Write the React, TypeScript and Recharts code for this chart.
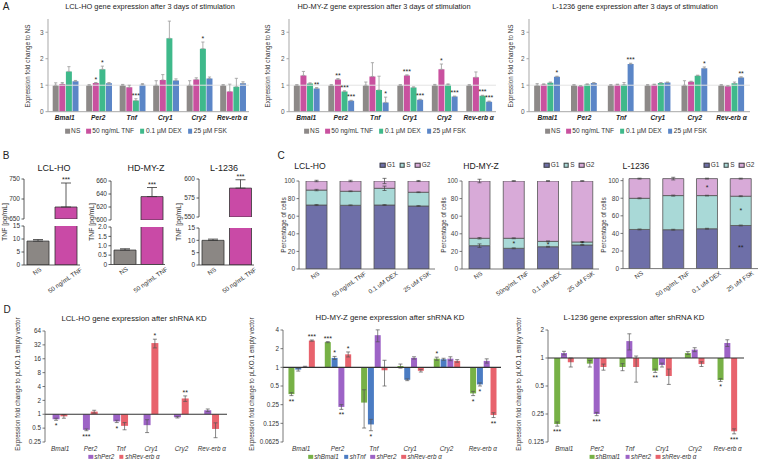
import React from 'react';
import { BarChart, Bar, XAxis, YAxis, ErrorBar, LabelList, ReferenceLine, Cell } from 'recharts';

const FONT = '"Liberation Sans", Arial, Helvetica, sans-serif';

// ================= Panel A data =================
const genes = ['Bmal1', 'Per2', 'Tnf', 'Cry1', 'Cry2', 'Rev-erb α'];
const stimNames = ['NS', '50 ng/mL TNF', '0.1 µM DEX', '25 µM FSK'];
const stimColors = ['#8d8988', '#c9519f', '#3fb98b', '#5b86c7'];
const noStars = ['', '', '', '', '', ''];

// LCL-HO
const a1NS = [1.0, 1.0, 1.0, 1.0, 1.0, 1.0];
const a1TNF = [1.05, 1.08, 0.92, 1.2, 1.22, 0.76];
const a1DEX = [1.52, 1.6, 0.42, 2.77, 2.38, 0.94];
const a1FSK = [1.15, 1.07, 1.02, 1.18, 1.25, 1.07];
const a1NSErr = [0.09, 0.02, 0.03, 0.17, 0.17, 0.02];
const a1TNFErr = [0.05, 0.02, 0.08, 0.2, 0.06, 0.28];
const a1DEXErr = [0.18, 0.12, 0.07, 0.65, 0.25, 0.32];
const a1FSKErr = [0.03, 0.03, 0.04, 0.06, 0.06, 0.06];
const a1TNFStars = ['', '*', '', '', '', ''];
const a1DEXStars = ['', '*', '***', '', '*', ''];

// HD-MY-Z
const a2NS = [1.0, 1.0, 1.0, 1.0, 1.0, 1.0];
const a2TNF = [1.37, 1.22, 1.33, 1.37, 1.6, 1.3];
const a2DEX = [1.06, 0.76, 0.82, 0.91, 1.02, 0.6];
const a2FSK = [0.88, 0.41, 0.35, 0.45, 0.57, 0.38];
const a2NSErr = [0.02, 0.02, 0.12, 0.02, 0.03, 0.02];
const a2TNFErr = [0.15, 0.03, 0.52, 0.02, 0.2, 0.2];
const a2DEXErr = [0.03, 0.03, 0.52, 0.03, 0.03, 0.02];
const a2FSKErr = [0.03, 0.02, 0.2, 0.02, 0.02, 0.02];
const a2TNFStars = ['', '**', '', '***', '*', ''];
const a2DEXStars = ['', '***', '', '', '', '***'];
const a2FSKStars = ['**', '***', '*', '***', '***', '***'];

// L-1236
const a3NS = [1.0, 1.0, 1.0, 1.0, 1.0, 1.0];
const a3TNF = [1.03, 0.96, 1.02, 1.02, 1.13, 0.96];
const a3DEX = [1.09, 1.03, 1.02, 1.08, 1.36, 1.07];
const a3FSK = [1.32, 1.08, 1.8, 1.1, 1.64, 1.29];
const a3NSErr = [0.06, 0.02, 0.02, 0.02, 0.17, 0.02];
const a3TNFErr = [0.02, 0.02, 0.02, 0.02, 0.02, 0.02];
const a3DEXErr = [0.03, 0.02, 0.08, 0.02, 0.02, 0.05];
const a3FSKErr = [0.02, 0.02, 0.03, 0.02, 0.05, 0.03];
const a3FSKStars = ['*', '', '***', '', '*', '**'];

// ================= Panel B data =================
const bCats = ['NS', '50 ng/mL TNF'];
const bColors = ['#8b8784', '#c94aa6'];
const b1Vals = [9.2, 680];
const b1Errs = [0.6, 60];
const b2Vals = [0.77, 636];
const b2Errs = [0.07, 14];
const b3Vals = [10.0, 588];
const b3Errs = [0.5, 11];
const bStars = ['', '***'];

// ================= Panel C data =================
const cCats = ['NS', '50 ng/mL TNF', '0.1 uM DEX', '25 uM FSK'];
const cCats2 = ['NS', '50ng/mL TNF', '0.1 uM DEX', '25 uM FSK'];
const phaseNames = ['G1', 'S', 'G2'];
const phaseColors = ['#6e6fa8', '#a9d9d7', '#d8aad8'];
const cNoStars = ['', '', '', ''];

const c1G1 = [72.7, 72.4, 72.7, 71.6];
const c1S = [17.0, 15.9, 19.0, 15.6];
const c1G2 = [10.3, 11.7, 8.3, 12.8];
const c1G1Err = [0.6, 0.4, 0.5, 0.4];
const c1SErr = [0.8, 0.4, 2.5, 0.4];
const c1G2Err = [0.8, 0.8, 3.0, 0.6];

const c2G1 = [26.5, 23.5, 25.3, 27.3];
const c2S = [8.4, 11.4, 6.1, 3.4];
const c2G2 = [65.1, 65.1, 68.6, 69.3];
const c2G1Err = [2.0, 0.5, 0.5, 0.5];
const c2SErr = [0.8, 0.5, 0.5, 0.5];
const c2G2Err = [2.0, 0.4, 0.4, 0.4];
const c2SStars = ['', '*', '*', '*'];

const c3G1 = [44.5, 44.2, 45.3, 49.0];
const c3S = [35.4, 38.8, 37.7, 33.3];
const c3G2 = [22.4, 19.3, 19.3, 20.0];
const c3G1Err = [0.5, 0.5, 0.5, 0.5];
const c3SErr = [0.5, 0.6, 0.4, 0.5];
const c3G2Err = [0.5, 1.5, 0.5, 0.5];
const c3G1Stars = ['', '', '', '**'];
const c3SStars = ['', '', '', '*'];
const c3G2Stars = ['', '', '*', ''];

// ================= Panel D data =================
const shColors = { bmal1: '#77b146', tnf: '#4b7cc3', per2: '#9d63c6', rev: '#e8636d' };

const d1Per2 = [0.78, 0.46, 0.7, 0.58, 0.86, 1.22];
const d1Per2Err = [0.04, 0.02, 0.04, 0.18, 0.03, 0.08];
const d1Per2Stars = ['*', '***', '*', '', '', ''];
const d1Rev = [0.9, 1.14, 0.56, 35, 2.2, 0.48];
const d1RevErr = [0.08, 0.08, 0.1, 7.5, 0.3, 0.17];
const d1RevStars = ['', '', '', '*', '**', ''];
const d1Ticks = [0.25, 0.5, 1, 2, 4, 8, 16, 32, 64];

const d2Bmal1 = [0.37, 2.55, 0.27, 1.05, 1.38, 0.38];
const d2Bmal1Err = [0.02, 0.05, 0.165, 0.08, 0.08, 0.03];
const d2Bmal1Stars = ['**', '***', '', '', '*', '*'];
const d2Tnf = [0.92, 1.42, 0.12, 0.63, 1.35, 0.53];
const d2TnfErr = [0.05, 0.08, 0.025, 0.02, 0.05, 0.03];
const d2TnfStars = ['', '*', '*', '', '', '*'];
const d2Per2 = [1.02, 0.23, 3.3, 1.42, 1.38, 1.27];
const d2Per2Err = [0.02, 0.02, 0.72, 0.06, 0.1, 0.1];
const d2Per2Stars = ['', '**', '', '', '', ''];
const d2Rev = [2.7, 1.62, 0.9, 0.88, 1.27, 0.17];
const d2RevErr = [0.06, 0.15, 0.4, 0.04, 0.06, 0.015];
const d2RevStars = ['***', '*', '', '', '', '**'];
const d2Ticks = [0.0625, 0.125, 0.25, 0.5, 1, 2, 4];

const d3Bmal1 = [0.195, 0.87, 0.8, 0.73, 1.13, 0.58];
const d3Bmal1Err = [0.01, 0.07, 0.07, 0.03, 0.04, 0.02];
const d3Bmal1Stars = ['***', '', '', '**', '', '*'];
const d3Per2 = [1.13, 0.25, 1.52, 0.84, 1.23, 1.45];
const d3Per2Err = [0.05, 0.01, 0.3, 0.04, 0.06, 0.12];
const d3Per2Stars = ['', '***', '', '', '', ''];
const d3Rev = [0.9, 0.8, 0.8, 0.64, 0.86, 0.163];
const d3RevErr = [0.1, 0.06, 0.25, 0.12, 0.05, 0.01];
const d3RevStars = ['', '', '', '', '', '***'];
const d3Ticks = [0.125, 0.25, 0.5, 1, 2];

// ================= helpers =================
type Series = { name: string; color: string; vals: number[]; errs: number[]; stars: string[] };

// builds the table; 'q' keys carry "<index>|<stars>" so the star label knows which data point it belongs to
function buildRows(cats: string[], series: Series[], errMode: 'up' | 'both', rangeBase?: number) {
  return cats.map((c, i) => {
    const row: Record<string, any> = { cat: c };
    series.forEach((s, j) => {
      const v = s.vals[i];
      row['v' + j] = rangeBase === undefined ? v : [rangeBase, v];
      row['e' + j] = errMode === 'up' ? [0, s.errs[i]] : s.errs[i];
      row['s' + j] = s.stars[i];
      row['q' + j] = s.stars[i] ? `${i}|${s.stars[i]}` : '';
    });
    return row;
  });
}

function starLabel(vals: (number | null)[], errs: number[], log: boolean, k: number, fs = 7) {
  return (p: any) => {
    const raw = p.value;
    if (!raw || typeof raw !== 'string') return null;
    const [idx, s] = raw.split('|');
    const i = Number(idx);
    const vb = p.viewBox && p.viewBox.width != null ? p.viewBox : p;
    const cx = vb.x + vb.width / 2;
    const v = vals[i] as number;
    const e = errs[i] || 0;
    let ty: number;
    if (!log) ty = vb.y - k * e - 1;
    else if (v >= 1) ty = vb.y - k * (Math.log2(v + e) - Math.log2(v)) - 1;
    else ty = vb.y + k * (Math.log2(v) - Math.log2(Math.max(v - e, 1e-4))) + 8;
    return (
      <text x={cx} y={ty} textAnchor="middle" fontSize={fs} fontFamily={FONT} fill="#222">
        {s}
      </text>
    );
  };
}

function Frame(props: {
  x: number; y: number; w: number; h: number; padL: number; padT: number; padR: number; padB: number; mb?: number;
  data: any[]; children: React.ReactNode; gap?: string | number; barGap?: number;
}) {
  const { x, y, w, h, padL, padT, padR, padB, data, children, gap, barGap } = props;
  const mb = props.mb ?? 0;
  return (
    <div style={{ position: 'absolute', left: x - padL, top: y - padT }}>
      <BarChart
        width={padL + w + padR}
        height={padT + h + padB + mb}
        data={data}
        margin={{ top: padT, right: padR, bottom: mb, left: 0 }}
        barCategoryGap={gap ?? '10%'}
        barGap={barGap ?? 1}
      >
        {children}
      </BarChart>
    </div>
  );
}

function Txt({ x, y, size, children, weight, italic, color }: any) {
  return (
    <div
      style={{
        position: 'absolute', left: x, top: y, transform: 'translate(-50%,-50%)', whiteSpace: 'nowrap',
        fontFamily: FONT, fontSize: size, fontWeight: weight || 'normal', fontStyle: italic ? 'italic' : 'normal',
        color: color || '#222', lineHeight: 1,
      }}
    >
      {children}
    </div>
  );
}

function VLabel({ x, y, size, children }: any) {
  return (
    <div
      style={{
        position: 'absolute', left: x, top: y, transform: 'translate(-50%,-50%) rotate(-90deg)', whiteSpace: 'nowrap',
        fontFamily: FONT, fontSize: size, color: '#333', lineHeight: 1,
      }}
    >
      {children}
    </div>
  );
}

function Leg({ cx, cy, items, size, box, border, italic, gap }: any) {
  return (
    <div
      style={{
        position: 'absolute', left: cx, top: cy, transform: 'translate(-50%,-50%)', display: 'flex', alignItems: 'center',
        gap: gap, whiteSpace: 'nowrap', fontFamily: FONT, fontSize: size, fontStyle: italic ? 'italic' : 'normal',
        color: '#333', lineHeight: 1,
      }}
    >
      {items.map((it: any) => (
        <span key={it.name} style={{ display: 'flex', alignItems: 'center' }}>
          <span
            style={{
              display: 'inline-block', width: box, height: box, background: it.color, marginRight: 1.5,
              boxSizing: 'border-box', border: border ? `0.8px solid ${border}` : 'none',
            }}
          />
          {it.name}
        </span>
      ))}
    </div>
  );
}

const CatTickA = (p: any) => (
  <text x={p.x} y={p.y + 8} textAnchor="middle" fontSize={6.6} fontWeight="bold" fontStyle="italic" fontFamily={FONT} fill="#222">
    {p.payload.value}
  </text>
);

const CatTickD = (p: any) => (
  <text x={p.x} y={p.y + 8.5} textAnchor="middle" fontSize={6.4} fontStyle="italic" fontFamily={FONT} fill="#333">
    {p.payload.value}
  </text>
);

const RotTick = (p: any) => {
  const fs = 6.3;
  const label = String(p.payload.value);
  const L = label.length * fs * 0.5;
  const cy = p.y + 4.5 + (L / 2) * Math.sin((35 * Math.PI) / 180);
  const cx = p.x - 1;
  return (
    <text x={cx} y={cy} dy="0.35em" textAnchor="middle" transform={`rotate(-35 ${cx} ${cy})`} fontSize={fs} fontFamily={FONT} fill="#333">
      {label}
    </text>
  );
};

// ================= Panel A chart =================
function ChartA({ x, w, series }: { x: number; w: number; series: Series[] }) {
  const y = 19, h = 92.7, padL = 20, padT = 8, padR = 4, padB = 14;
  const data = buildRows(genes, series, 'up');
  const k = h / 3.5;
  return (
    <Frame x={x} y={y} w={w} h={h} padL={padL} padT={padT} padR={padR} padB={padB} data={data} gap="14%" barGap={0.6}>
      <XAxis dataKey="cat" interval={0} height={padB} tickLine={false} tickSize={0} tickMargin={0} axisLine={{ stroke: '#a8a8a8' }} tick={(p: any) => <CatTickA {...p} />} />
      <YAxis type="number" width={padL} domain={[0, 3.5]} ticks={[0, 1, 2, 3]} interval={0} allowDataOverflow tickSize={2.5} tickMargin={2} axisLine={{ stroke: '#a8a8a8' }} tickLine={{ stroke: '#a8a8a8' }} tick={{ fontSize: 6.5, fill: '#555', fontFamily: FONT }} />
      <ReferenceLine y={1} stroke="#e3e3e3" strokeWidth={1} />
      {series.map((s, j) => (
        <Bar key={s.name} dataKey={'v' + j} fill={s.color} isAnimationActive={false}>
          <ErrorBar dataKey={'e' + j} width={1.6} stroke="#9a9a9a" strokeWidth={0.8} direction="y" />
          <LabelList dataKey={'q' + j} content={starLabel(s.vals, s.errs, false, k)} />
        </Bar>
      ))}
    </Frame>
  );
}

// ================= Panel B chart =================
type Seg = { y: number; h: number; domain: [number, number]; ticks: number[]; fmt?: (v: number) => string };
function ChartB({ x, w, vals, errs, up, lo }: { x: number; w: number; vals: number[]; errs: number[]; up: Seg; lo: Seg }) {
  const padL = 20, padR = 4;
  const upVals = vals.map((v) => (v > up.domain[0] ? v : null));
  const upRows = bCats.map((c, i) => ({ cat: c, v: upVals[i], e: [0, errs[i]], q: bStars[i] ? `${i}|${bStars[i]}` : '' }));
  const loRows = bCats.map((c, i) => ({ cat: c, v: vals[i], e: [0, errs[i]] }));
  const kUp = up.h / (up.domain[1] - up.domain[0]);
  const axisStyle = { stroke: '#333', strokeWidth: 0.8 };
  const tickStyle = { fontSize: 6.5, fill: '#333', fontFamily: FONT };
  return (
    <>
      <Frame x={x} y={up.y} w={w} h={up.h} padL={padL} padT={12} padR={padR} padB={0} mb={6} data={upRows}>
        <XAxis dataKey="cat" hide />
        <YAxis type="number" width={padL} domain={up.domain} ticks={up.ticks} interval={0} allowDataOverflow tickSize={2.5} tickMargin={1.5} axisLine={axisStyle} tickLine={axisStyle} tick={tickStyle} />
        <Bar dataKey="v" barSize={22} stroke="#333" strokeWidth={0.8} isAnimationActive={false}>
          {upRows.map((r, i) => (
            <Cell key={r.cat} fill={bColors[i]} />
          ))}
          <ErrorBar dataKey="e" width={5} stroke="#333" strokeWidth={0.8} direction="y" />
          <LabelList dataKey="q" content={starLabel(upVals, errs, false, kUp)} />
        </Bar>
      </Frame>
      <Frame x={x} y={lo.y} w={w} h={lo.h} padL={padL} padT={5} padR={padR} padB={32} data={loRows}>
        <XAxis dataKey="cat" interval={0} height={32} tickLine={false} tickSize={0} tickMargin={0} axisLine={axisStyle} tick={(p: any) => <RotTick {...p} />} />
        <YAxis type="number" width={padL} domain={lo.domain} ticks={lo.ticks} interval={0} allowDataOverflow tickSize={2.5} tickMargin={1.5} axisLine={axisStyle} tickLine={axisStyle} tick={tickStyle} tickFormatter={lo.fmt} />
        <Bar dataKey="v" barSize={22} stroke="#333" strokeWidth={0.8} isAnimationActive={false}>
          {loRows.map((r, i) => (
            <Cell key={r.cat} fill={bColors[i]} />
          ))}
          <ErrorBar dataKey="e" width={5} stroke="#333" strokeWidth={0.8} direction="y" />
        </Bar>
      </Frame>
    </>
  );
}

// ================= Panel C chart =================
function ChartC({ x, y, w, h, dmax, cats, series }: { x: number; y: number; w: number; h: number; dmax: number; cats: string[]; series: Series[] }) {
  const padL = 20, padT = 6, padR = 2, padB = 34;
  const data = buildRows(cats, series, 'both');
  const axisStyle = { stroke: '#555', strokeWidth: 0.8 };
  return (
    <Frame x={x} y={y} w={w} h={h} padL={padL} padT={padT} padR={padR} padB={padB} data={data}>
      <XAxis dataKey="cat" interval={0} height={padB} tickLine={false} tickSize={0} tickMargin={0} axisLine={axisStyle} tick={(p: any) => <RotTick {...p} />} />
      <YAxis type="number" width={padL} domain={[0, dmax]} ticks={[0, 20, 40, 60, 80, 100]} interval={0} allowDataOverflow tickSize={2.5} tickMargin={1.5} axisLine={axisStyle} tickLine={axisStyle} tick={{ fontSize: 6.5, fill: '#444', fontFamily: FONT }} />
      {series.map((s, j) => (
        <Bar key={s.name} dataKey={'v' + j} stackId="a" barSize={21} fill={s.color} stroke="#555" strokeWidth={0.8} isAnimationActive={false}>
          <ErrorBar dataKey={'e' + j} width={2} stroke="#444" strokeWidth={0.7} direction="y" />
          <LabelList dataKey={'s' + j} position="center" fontSize={7} fill="#222" fontFamily={FONT} />
        </Bar>
      ))}
    </Frame>
  );
}

// ================= Panel D chart =================
function ChartD({ x, y, w, h, domain, ticks, series, gap }: { x: number; y: number; w: number; h: number; domain: [number, number]; ticks: number[]; series: Series[]; gap: string }) {
  const padL = 24, padT = 4, padR = 4, padB = 12;
  const data = buildRows(genes, series, 'both', 1);
  const k = h / (Math.log2(domain[1]) - Math.log2(domain[0]));
  const axisStyle = { stroke: '#555', strokeWidth: 0.8 };
  return (
    <Frame x={x} y={y} w={w} h={h} padL={padL} padT={padT} padR={padR} padB={padB} data={data} gap={gap} barGap={0.8}>
      <XAxis dataKey="cat" interval={0} height={padB} tickLine={false} tickSize={0} tickMargin={0} axisLine={false} tick={(p: any) => <CatTickD {...p} />} />
      <YAxis type="number" scale="log" width={padL} domain={domain} ticks={ticks} interval={0} allowDataOverflow tickSize={2.5} tickMargin={1.5} axisLine={axisStyle} tickLine={axisStyle} tick={{ fontSize: 6.3, fill: '#333', fontFamily: FONT }} tickFormatter={(v: number) => String(v)} />
      {series.map((s, j) => (
        <Bar key={s.name} dataKey={'v' + j} fill={s.color} isAnimationActive={false}>
          <ErrorBar dataKey={'e' + j} width={2} stroke="#555" strokeWidth={0.7} direction="y" />
          <LabelList dataKey={'q' + j} content={starLabel(s.vals, s.errs, true, k)} />
        </Bar>
      ))}
      <ReferenceLine y={1} stroke="#333" strokeWidth={1.2} />
    </Frame>
  );
}

// ================= series assembly =================
const mkA = (vals: number[][], errs: number[][], stars: string[][]): Series[] =>
  stimNames.map((n, i) => ({ name: n, color: stimColors[i], vals: vals[i], errs: errs[i], stars: stars[i] }));

const a1Series = mkA([a1NS, a1TNF, a1DEX, a1FSK], [a1NSErr, a1TNFErr, a1DEXErr, a1FSKErr], [noStars, a1TNFStars, a1DEXStars, noStars]);
const a2Series = mkA([a2NS, a2TNF, a2DEX, a2FSK], [a2NSErr, a2TNFErr, a2DEXErr, a2FSKErr], [noStars, a2TNFStars, a2DEXStars, a2FSKStars]);
const a3Series = mkA([a3NS, a3TNF, a3DEX, a3FSK], [a3NSErr, a3TNFErr, a3DEXErr, a3FSKErr], [noStars, noStars, noStars, a3FSKStars]);

const mkC = (vals: number[][], errs: number[][], stars: string[][]): Series[] =>
  phaseNames.map((n, i) => ({ name: n, color: phaseColors[i], vals: vals[i], errs: errs[i], stars: stars[i] }));

const c1Series = mkC([c1G1, c1S, c1G2], [c1G1Err, c1SErr, c1G2Err], [cNoStars, cNoStars, cNoStars]);
const c2Series = mkC([c2G1, c2S, c2G2], [c2G1Err, c2SErr, c2G2Err], [cNoStars, c2SStars, cNoStars]);
const c3Series = mkC([c3G1, c3S, c3G2], [c3G1Err, c3SErr, c3G2Err], [c3G1Stars, c3SStars, c3G2Stars]);

const d1Series: Series[] = [
  { name: 'shPer2', color: shColors.per2, vals: d1Per2, errs: d1Per2Err, stars: d1Per2Stars },
  { name: 'shRev-erb α', color: shColors.rev, vals: d1Rev, errs: d1RevErr, stars: d1RevStars },
];
const d2Series: Series[] = [
  { name: 'shBmal1', color: shColors.bmal1, vals: d2Bmal1, errs: d2Bmal1Err, stars: d2Bmal1Stars },
  { name: 'shTnf', color: shColors.tnf, vals: d2Tnf, errs: d2TnfErr, stars: d2TnfStars },
  { name: 'shPer2', color: shColors.per2, vals: d2Per2, errs: d2Per2Err, stars: d2Per2Stars },
  { name: 'shRev-erb α', color: shColors.rev, vals: d2Rev, errs: d2RevErr, stars: d2RevStars },
];
const d3Series: Series[] = [
  { name: 'shBmal1', color: shColors.bmal1, vals: d3Bmal1, errs: d3Bmal1Err, stars: d3Bmal1Stars },
  { name: 'shPer2', color: shColors.per2, vals: d3Per2, errs: d3Per2Err, stars: d3Per2Stars },
  { name: 'shRev-erb α', color: shColors.rev, vals: d3Rev, errs: d3RevErr, stars: d3RevStars },
];

const stimLegend = stimNames.map((n, i) => ({ name: n, color: stimColors[i] }));
const phaseLegend = phaseNames.map((n, i) => ({ name: n, color: phaseColors[i] }));

export default function App() {
  const yLab = 'Expression fold change to NS';
  const dLab = 'Expression fold change to pLKO.1 empty vector';
  return (
    <div style={{ position: 'absolute', left: 0, top: 0, width: 759, height: 460, background: '#fff', overflow: 'hidden', fontFamily: FONT }}>
      {/* Panel letters */}
      <Txt x={6} y={7} size={10}>A</Txt>
      <Txt x={6} y={156} size={10}>B</Txt>
      <Txt x={281} y={156} size={10}>C</Txt>
      <Txt x={7} y={310} size={10}>D</Txt>

      {/* Panel A */}
      <Txt x={150} y={7} size={7.4}>LCL-HO gene expression after 3 days of stimulation</Txt>
      <Txt x={384} y={7} size={7.4}>HD-MY-Z gene expression after 3 days of stimulation</Txt>
      <Txt x={635} y={7} size={7.4}>L-1236 gene expression after 3 days of stimulation</Txt>
      <VLabel x={28} y={66} size={6.3}>{yLab}</VLabel>
      <VLabel x={268} y={66} size={6.3}>{yLab}</VLabel>
      <VLabel x={511} y={66} size={6.3}>{yLab}</VLabel>
      <ChartA x={47.5} w={201} series={a1Series} />
      <ChartA x={289} w={207} series={a2Series} />
      <ChartA x={529} w={221} series={a3Series} />
      <Leg cx={146} cy={131} items={stimLegend} size={6.6} box={4.5} gap={6} />
      <Leg cx={385} cy={131} items={stimLegend} size={6.6} box={4.5} gap={6} />
      <Leg cx={626} cy={131} items={stimLegend} size={6.6} box={4.5} gap={6} />

      {/* Panel B */}
      <Txt x={54} y={168} size={9}>LCL-HO</Txt>
      <Txt x={146} y={168} size={9}>HD-MY-Z</Txt>
      <Txt x={224} y={168} size={9}>L-1236</Txt>
      <VLabel x={5} y={222} size={6.8}>TNF [pg/mL]</VLabel>
      <VLabel x={92} y={222} size={6.8}>TNF [pg/mL]</VLabel>
      <VLabel x={179} y={222} size={6.8}>TNF [pg/mL]</VLabel>
      <ChartB x={24} w={56} vals={b1Vals} errs={b1Errs}
        up={{ y: 179, h: 40, domain: [650, 750], ticks: [650, 700, 750] }}
        lo={{ y: 226, h: 39, domain: [0, 15], ticks: [0, 5, 10, 15] }} />
      <ChartB x={111} w={54} vals={b2Vals} errs={b2Errs}
        up={{ y: 181, h: 39, domain: [600, 660], ticks: [600, 620, 640, 660] }}
        lo={{ y: 227, h: 37.5, domain: [0, 2], ticks: [0, 0.5, 1, 1.5, 2], fmt: (v: number) => (v === 0 ? '0' : v.toFixed(1)) }} />
      <ChartB x={198.5} w={55} vals={b3Vals} errs={b3Errs}
        up={{ y: 179, h: 38, domain: [550, 600], ticks: [550, 575, 600] }}
        lo={{ y: 227.5, h: 37, domain: [0, 15], ticks: [0, 5, 10, 15] }} />

      {/* Panel C */}
      <Txt x={310} y={166} size={8.6}>LCL-HO</Txt>
      <Txt x={481} y={166} size={8.6}>HD-MY-Z</Txt>
      <Txt x={636} y={166} size={8.6}>L-1236</Txt>
      <Leg cx={405} cy={165} items={phaseLegend} size={6.5} box={5.5} border="#444" gap={4} />
      <Leg cx={569} cy={165} items={phaseLegend} size={6.5} box={5.5} border="#444" gap={4} />
      <Leg cx={729} cy={165} items={phaseLegend} size={6.5} box={5.5} border="#444" gap={4} />
      <VLabel x={284} y={225} size={6.5}>Percentage of cells</VLabel>
      <VLabel x={444} y={225} size={6.5}>Percentage of cells</VLabel>
      <VLabel x={604} y={225} size={6.5}>Percentage of cells</VLabel>
      <ChartC x={299} y={181} w={136} h={88} dmax={100} cats={cCats} series={c1Series} />
      <ChartC x={462} y={181} w={137} h={88} dmax={100} cats={cCats2} series={c2Series} />
      <ChartC x={623} y={178.4} w={135} h={90.6} dmax={103} cats={cCats} series={c3Series} />

      {/* Panel D */}
      <Txt x={134} y={319} size={7.8}>LCL-HO gene expression after shRNA KD</Txt>
      <Txt x={390} y={318} size={7.8}>HD-MY-Z gene expression after shRNA KD</Txt>
      <Txt x={634} y={318} size={7.8}>L-1236 gene expression after shRNA KD</Txt>
      <VLabel x={18} y={384} size={6.3}>{dLab}</VLabel>
      <VLabel x={252} y={384} size={6.3}>{dLab}</VLabel>
      <VLabel x={519} y={384} size={6.3}>{dLab}</VLabel>
      <ChartD x={45} y={331} w={182} h={111} domain={[0.25, 64]} ticks={d1Ticks} series={d1Series} gap="25%" />
      <ChartD x={283} y={330} w={218} h={112} domain={[0.0625, 4]} ticks={d2Ticks} series={d2Series} gap="15%" />
      <ChartD x={548} y={330} w={196} h={112} domain={[0.125, 2]} ticks={d3Ticks} series={d3Series} gap="19%" />
      <Leg cx={124} cy={457} items={d1Series.map((s) => ({ name: s.name, color: s.color }))} size={6.3} box={4.5} italic gap={5} />
      <Leg cx={375} cy={457} items={d2Series.map((s) => ({ name: s.name, color: s.color }))} size={6.3} box={4.5} italic gap={5} />
      <Leg cx={643} cy={457} items={d3Series.map((s) => ({ name: s.name, color: s.color }))} size={6.3} box={4.5} italic gap={5} />
    </div>
  );
}
